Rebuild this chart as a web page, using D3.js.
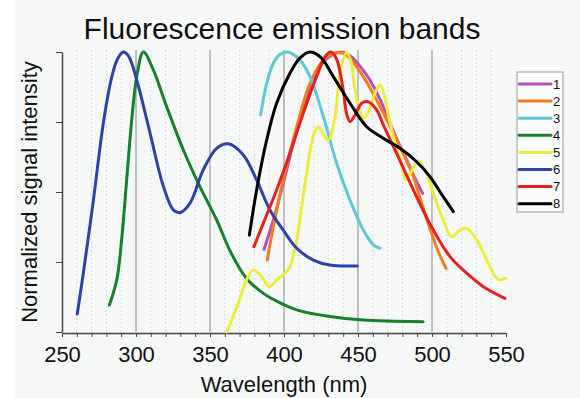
<!DOCTYPE html>
<html>
<head>
<meta charset="utf-8">
<script src="https://cdn.jsdelivr.net/npm/d3@7"></script>
<style>
  html, body { margin: 0; padding: 0; background: #f6f8f8; }
  svg { display: block; font-family: "Liberation Sans", Arial, sans-serif; }
</style>
</head>
<body>
<svg id="chart" width="580" height="398"></svg>
<script>
// series labels + colours
const seriesNames = ["1", "2", "3", "4", "5", "6", "7", "8"]
const seriesColors = ["#b54fbf", "#f07d22", "#5ec8d6", "#17802c", "#ecec3c", "#2d43a6", "#e5211f", "#000000"]

// [wavelength nm, normalized intensity]
const band1 = [[386.5,0.295],[392.8,0.40],[399.5,0.531],[408.6,0.72],[417.6,0.875],[426.6,0.965],[435,0.995],[439,1.0],[445,0.985],[452,0.945],[458,0.9],[465,0.83],[471.6,0.745],[477,0.68],[483,0.614],[488,0.555],[493.7,0.495]]
const band2 = [[388.7,0.257],[392.8,0.376],[399.5,0.543],[408.6,0.733],[417.6,0.888],[426.6,0.971],[435.6,0.998],[440,0.995],[444.6,0.977],[453.6,0.912],[464.9,0.805],[476.1,0.686],[487.4,0.555],[493,0.46],[498.6,0.37],[504,0.29],[509.5,0.227]]
const band3 = [[384.2,0.775],[388.3,0.888],[392.8,0.96],[397,0.99],[402.5,1.0],[410.8,0.971],[417.6,0.912],[426.6,0.769],[435.6,0.602],[444.6,0.471],[453.6,0.364],[460.4,0.311],[464.9,0.299]]
const band4 = [[282,0.096],[287,0.186],[290.3,0.33],[293.7,0.543],[297.1,0.757],[300.5,0.912],[305,1.0],[311.7,0.936],[320.7,0.805],[332,0.65],[343.2,0.519],[354.5,0.4],[364,0.285],[374.8,0.19],[386,0.138],[397,0.105],[408.6,0.079],[431,0.055],[453.6,0.043],[494,0.037]]
const band5 = [[361.3,0.0],[366,0.06],[370.3,0.12],[375,0.19],[379.3,0.221],[383.8,0.205],[390.1,0.162],[395,0.186],[399.5,0.204],[404,0.233],[408.6,0.329],[412,0.45],[415.3,0.567],[419.8,0.7],[423.2,0.733],[426.6,0.705],[430,0.686],[434.5,0.77],[438,0.93],[442.3,0.998],[445.5,0.96],[448,0.864],[451.4,0.787],[453.6,0.763],[456,0.775],[459.2,0.817],[462.5,0.865],[464.9,0.882],[467,0.86],[469.3,0.805],[475,0.674],[479.5,0.602],[482,0.545],[486.3,0.575],[490.7,0.612],[496,0.57],[500.9,0.495],[507.6,0.4],[513.3,0.34],[518.9,0.364],[523.4,0.37],[530.2,0.329],[537,0.257],[543.7,0.192],[546,0.186],[550,0.192]]
const band6 = [[260.3,0.064],[264.4,0.21],[271.2,0.47],[277.9,0.745],[283.6,0.91],[287.5,0.975],[291.5,1.0],[295,0.985],[300.5,0.9],[309.5,0.71],[318.5,0.52],[325.2,0.436],[329.7,0.426],[336.5,0.46],[345.5,0.58],[354.5,0.656],[362.4,0.672],[372.5,0.632],[381.5,0.543],[390.5,0.436],[399.5,0.364],[408.6,0.299],[419.8,0.257],[431,0.239],[449.5,0.236]]
const band7 = [[379.7,0.305],[386,0.388],[395,0.507],[404,0.638],[413,0.781],[422,0.912],[428,0.985],[431.5,1.0],[435.5,0.975],[440,0.864],[442.3,0.78],[444.6,0.751],[448,0.775],[452.5,0.817],[457,0.822],[462.6,0.793],[467.1,0.74],[476.1,0.638],[489.6,0.483],[500.9,0.364],[512.2,0.269],[523.4,0.21],[534.7,0.162],[549.3,0.12]]
const band8 = [[376.6,0.346],[381.5,0.507],[388.3,0.686],[395,0.817],[404,0.924],[411,0.98],[417.6,1.0],[425,0.98],[433.3,0.912],[444.6,0.817],[455.9,0.733],[467,0.692],[478.4,0.656],[489.6,0.608],[498.6,0.555],[507.6,0.483],[514.4,0.43]]

const bands = [band1, band2, band3, band4, band5, band6, band7, band8]

const xTicks = d3.range(250, 551, 10)
const yTicks = [0, 0.25, 0.5, 0.75, 1]

const svg = d3.select("#chart")

//white strip on the left edge
svg.append("rect").attr("x", 0).attr("y", 0).attr("width", 15).attr("height", 398).attr("fill", "#fff")

const x = d3.scaleLinear().domain([250, 550]).range([62, 506])
const y = d3.scaleLinear().domain([0, 1]).range([332, 52])

//grid
const grid = svg.append("g")
grid.selectAll("line")
  .data(xTicks.filter((d) => d > 250 && d < 550))
  .join("line")
  .attr("x1", (d) => x(d)).attr("x2", (d) => x(d))
  .attr("y1", 50).attr("y2", y(0))
  .attr("stroke", (d) => d % 50 === 0 ? "#9a9a9a" : "#d9dcdc")
  .attr("stroke-width", (d) => d % 50 === 0 ? 1.2 : 1)
  .attr("stroke-dasharray", (d) => d % 50 === 0 ? null : "2,2")

//axes
const xAxis = svg.append("g")
  .attr("transform", `translate(0,${y(0) + 1})`)
  .call(d3.axisBottom(x).tickValues(xTicks).tickSize(4).tickSizeOuter(0)
    .tickFormat((d) => d % 50 === 0 ? d : ""))
xAxis.select(".domain").attr("stroke", "#444").attr("stroke-width", 1.5)
xAxis.selectAll(".tick line").attr("stroke", "#444")
xAxis.selectAll("text")
  .attr("y", 13).attr("dy", "0.71em")
  .attr("font-size", 22).attr("fill", "#111")
  .attr("font-family", "Liberation Sans, Arial, sans-serif")

const yAxis = svg.append("g")
  .attr("transform", `translate(${x(250)},0)`)
  .call(d3.axisLeft(y).tickValues(yTicks).tickSize(6).tickSizeOuter(0).tickFormat(""))
yAxis.select(".domain").attr("stroke", "#444").attr("stroke-width", 1.5)
yAxis.selectAll(".tick line").attr("stroke", "#444")

//curves
const line = d3.line()
  .x((d) => x(d[0]))
  .y((d) => y(d[1]))
  .curve(d3.curveCatmullRom.alpha(0.5))

svg.append("g")
  .selectAll("path")
  .data(bands)
  .join("path")
  .attr("d", line)
  .attr("fill", "none")
  .attr("stroke", (d, i) => seriesColors[i])
  .attr("stroke-width", 3)
  .attr("stroke-linecap", "round")
  .attr("stroke-linejoin", "round")

//titles
svg.append("text")
  .attr("x", 282).attr("y", 39)
  .attr("text-anchor", "middle")
  .attr("font-size", 30)
  .attr("fill", "#111")
  .text("Fluorescence emission bands")

svg.append("text")
  .attr("x", 284).attr("y", 392)
  .attr("text-anchor", "middle")
  .attr("font-size", 22)
  .attr("fill", "#111")
  .text("Wavelength (nm)")

svg.append("text")
  .attr("transform", "translate(37,192) rotate(-90)")
  .attr("text-anchor", "middle")
  .attr("font-size", 22)
  .attr("fill", "#111")
  .text("Normalized signal intensity")

//legend
const legend = svg.append("g")
legend.append("rect")
  .attr("x", 517).attr("y", 72).attr("width", 46).attr("height", 140)
  .attr("fill", "#fbfcfc").attr("stroke", "#9a9a9a")

const rows = legend.selectAll("g.row")
  .data(seriesNames)
  .join("g")
  .attr("class", "row")
  .attr("transform", (d, i) => `translate(0,${84 + i * 17.1})`)

rows.append("line")
  .attr("x1", 519).attr("x2", 551)
  .attr("stroke", (d, i) => seriesColors[i])
  .attr("stroke-width", 3)
  .attr("stroke-linecap", "round")

rows.append("text")
  .attr("x", 553).attr("dy", "0.36em")
  .attr("font-size", 13)
  .attr("fill", "#111")
  .text((d) => d)
</script>
</body>
</html>
